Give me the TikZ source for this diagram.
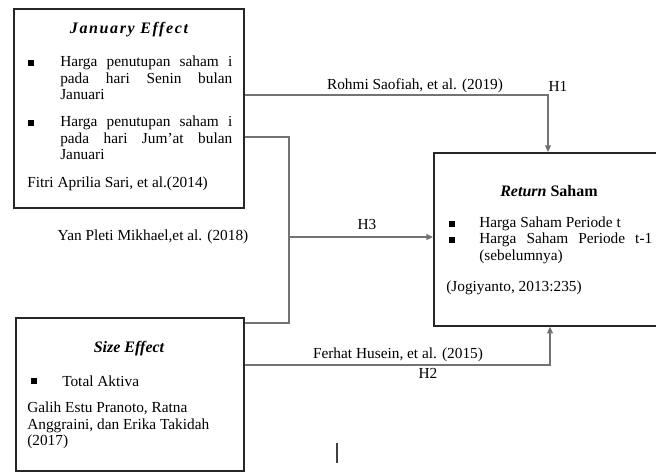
\documentclass[tikz,border=0pt]{standalone}
\usepackage{fontspec}
\setmainfont{Liberation Serif}
\usetikzlibrary{positioning,arrows.meta}

\begin{document}
\begin{tikzpicture}[x=0.75pt, y=-0.75pt,
    font=\fontsize{11.5}{12.4}\selectfont,
    box/.style={draw=black!85, line width=1.3pt, anchor=north west, inner sep=0pt},
    head/.style={font=\fontsize{12}{12.4}\selectfont\bfseries\itshape},
    bullet/.style={fill=black, minimum size=4.5pt, inner sep=0pt},
    item/.style={anchor=north west, inner sep=0pt, text width=129pt, align=justify},
    plain/.style={anchor=west, inner sep=0pt},
    link/.style={draw=black!55, line width=0.8pt},
    tip/.style={-{Triangle[length=5pt,width=4.5pt]}}]

    \useasboundingbox (0,0) rectangle (656,472);
    \clip (0,0) rectangle (656,472);

    % the three boxes
    \node[box, minimum width=172.5pt, minimum height=149.25pt] (jan) at (13,8) {};
    \node[box, minimum width=171pt, minimum height=114.75pt] (size) at (15,317) {};
    \node[box, minimum width=177.75pt, minimum height=129.75pt] (ret) at (433,152) {};

    % January Effect
    \node[head] (janT) at (129,30) {\addfontfeature{LetterSpace=10}January Effect};
    \node[bullet] (janB1) at (31,63) {};
    \node[item] (janI1) at (60,56) {Harga penutupan saham i\linebreak pada hari Senin bulan\linebreak Januari};
    \node[bullet] (janB2) at (31,123) {};
    \node[item] (janI2) at (60,116) {Harga penutupan saham i\linebreak pada hari Jum'at bulan\linebreak Januari};
    \node[plain] (janC) at (27,184) {Fitri Aprilia Sari, et al.(2014)};

    % Return Saham
    \node[font=\fontsize{12}{12.4}\selectfont\bfseries] (retT) at (549,191) {\textit{Return} Saham};
    \node[bullet] (retB1) at (452,224) {};
    \node[plain] (retI1) at (479,224) {Harga Saham Periode t};
    \node[bullet] (retB2) at (452,240) {};
    \node[item, text width=129.75pt] (retI2) at (479,233) {Harga Saham Periode t-1\linebreak (sebelumnya)};
    \node[plain] (retC) at (446,288) {(Jogiyanto, 2013:235)};

    % Size Effect
    \node[head] (sizeT) at (129,349) {Size Effect};
    \node[bullet] (sizeB) at (34,381) {};
    \node[plain] (sizeI) at (62,381) {Total Aktiva};
    \node[anchor=north west, inner sep=0pt, align=left] (sizeC) at (27,402)
        {Galih Estu Pranoto, Ratna\\ Anggraini, dan Erika Takidah\\ (2017)};

    % labels
    \node (h1cite) at (415,86) {Rohmi Saofiah, et al. (2019)};
    \node (h1) at (558,86) {H1};
    \node (h3) at (367,224) {H3};
    \node (h3cite) at (153,237) {Yan Pleti Mikhael,et al. (2018)};
    \node (h2cite) at (398,355) {Ferhat Husein, et al. (2015)};
    \node (h2) at (428,373) {H2};

    % connectors
    \coordinate (h1bend) at (548,95);
    \coordinate (h3top) at (289,137);
    \coordinate (h3mid) at (289,237);
    \coordinate (h3bot) at (289,323);
    \coordinate (h2bend) at (550,365);

    \draw[link, tip] (jan.east |- h1bend) -- (h1bend) -- (ret.north -| h1bend);
    \draw[link] (jan.east |- h3top) -- (h3top) -- (h3bot) -- (size.east |- h3bot);
    \draw[link, tip] (h3mid) -- (ret.west |- h3mid);
    \draw[link, tip] (size.east |- h2bend) -- (h2bend) -- (ret.south -| h2bend);

    \draw[line width=1.5pt, black!75] (337,443) -- (337,463);

\end{tikzpicture}
\end{document}
